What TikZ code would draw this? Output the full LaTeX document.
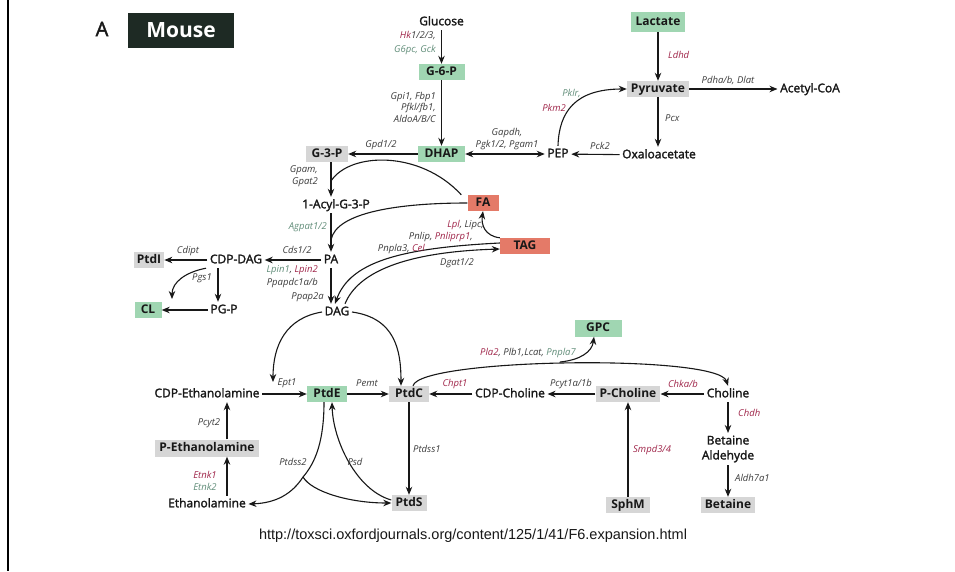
\documentclass[tikz,border=0pt]{standalone}
\usepackage{fontspec}
\setmainfont{Open Sans}
\newfontfamily\medfont[FakeBold=2]{Open Sans}
\newfontfamily\urlfont{Liberation Sans}
\usetikzlibrary{arrows.meta}
\definecolor{boxgreen}{RGB}{160,214,178}
\definecolor{boxgrey}{RGB}{214,214,214}
\definecolor{boxred}{RGB}{228,122,104}
\definecolor{enzred}{RGB}{160,38,74}
\definecolor{enzgreen}{RGB}{98,142,122}
\definecolor{inkc}{RGB}{24,24,24}
\definecolor{enzgrey}{RGB}{60,60,60}
\definecolor{mousebg}{RGB}{30,42,36}
\begin{document}
\begin{tikzpicture}[x=1pt,y=-1pt,
  met/.style={font=\fontsize{12}{12}\selectfont\medfont, text=inkc, inner sep=2.5pt, text height=8.8pt, text depth=2.2pt},
  metml/.style={font=\fontsize{12}{15}\selectfont\medfont, text=inkc, inner sep=2.5pt, align=center},
  boxed/.style={met, font=\fontsize{12}{12}\selectfont\bfseries, inner xsep=4pt, minimum height=15pt},
  gbox/.style={boxed, fill=boxgreen},
  grbox/.style={boxed, fill=boxgrey},
  rbox/.style={boxed, fill=boxred},
  enz/.style={font=\fontsize{9.5}{10}\selectfont\itshape, text=enzgrey, inner sep=0pt},
  arr/.style={draw=inkc, line width=1.1pt, -{Stealth[length=8pt,width=6.5pt]}},
  darr/.style={draw=inkc, line width=1.1pt, {Stealth[length=8pt,width=6.5pt]}-{Stealth[length=8pt,width=6.5pt]}},
  ln/.style={draw=inkc, line width=1.1pt}]
\useasboundingbox (0,0) rectangle (955,571);
\fill[white] (0,0) rectangle (955,571);
\draw[line width=2pt, black] (8,0) -- (8,571);

% header
\node[font=\fontsize{20}{20}\selectfont\medfont, text=inkc] (A) at (102,29) {A};
\node[fill=mousebg, minimum width=106pt, minimum height=35pt, text=white, font=\fontsize{21}{21}\selectfont\bfseries] (mouse) at (181,30) {Mouse};

% metabolites
\node[met] (glucose) at (441.5,22) {Glucose};
\node[gbox, minimum width=46pt] (g6p) at (441.5,72) {G-6-P};
\node[gbox, minimum width=47pt] (dhap) at (441.5,154) {DHAP};
\node[grbox, minimum width=42pt] (g3p) at (327,154) {G-3-P};
\node[met] (pep) at (558,154) {PEP};
\node[met] (oxa) at (659,155) {Oxaloacetate};
\node[gbox, minimum width=54pt, minimum height=20pt] (lactate) at (658,22) {Lactate};
\node[grbox, minimum width=53pt, minimum height=14pt] (pyr) at (658,89) {Pyruvate};
\node[met] (acoa) at (810,89) {Acetyl-CoA};
\node[met] (acyl) at (336,205) {1-Acyl-G-3-P};
\node[rbox, minimum width=31pt] (fa) at (483,203) {FA};
\node[rbox, minimum width=50pt] (tag) at (525,246) {TAG};
\node[met] (pa) at (331,260) {PA};
\node[met] (cdpdag) at (236,260) {CDP-DAG};
\node[grbox, minimum height=13pt, inner xsep=3pt] (ptdi) at (149,260) {PtdI};
\node[met] (pgp) at (224,310) {PG-P};
\node[gbox, minimum height=13pt, minimum width=27pt] (cl) at (148,310) {CL};
\node[met] (dag) at (337,312) {DAG};
\node[met] (cdpeth) at (207,394) {CDP-Ethanolamine};
\node[gbox, minimum width=40pt] (ptde) at (327,394) {PtdE};
\node[grbox, minimum width=40pt] (ptdc) at (409,394) {PtdC};
\node[met] (cdpcho) at (510,394) {CDP-Choline};
\node[grbox, minimum width=58pt] (pcho) at (628,394) {P-Choline};
\node[met] (choline) at (728,394) {Choline};
\node[gbox, minimum width=47pt, minimum height=17pt] (gpc) at (598,328) {GPC};
\node[metml] (betald) at (728,449) {Betaine\\Aldehyde};
\node[grbox, minimum width=45pt, minimum height=14pt] (betaine) at (728,505) {Betaine};
\node[grbox, minimum width=44pt, minimum height=14pt] (sphm) at (628,505) {SphM};
\node[grbox, minimum width=99pt, minimum height=17pt] (peth) at (207,448) {P-Ethanolamine};
\node[met] (eth) at (207,504) {Ethanolamine};
\node[grbox, minimum width=35pt] (ptds) at (409,503) {PtdS};

% free-end coordinates
\coordinate (j1) at (331,181);
\coordinate (j2) at (331,240);
\coordinate (k1) at (273,382);
\coordinate (clend) at (172,299);
\coordinate (bp) at (303,477);
\coordinate (gb) at (560,362);

% upper pathway
\draw[arr] (glucose) -- (g6p);
\draw[arr] (g6p) -- (dhap);
\draw[arr] (dhap) -- (g3p);
\draw[darr] (dhap) -- (pep);
\draw[arr] (oxa) -- (pep);
\draw[arr] (lactate) -- (pyr);
\draw[arr] (pyr.south) -- (pyr.south |- oxa.north);
\draw[arr] (pyr) -- (acoa);
\draw[arr] (pep.north) .. controls (559,112) and (575,89) .. (pyr.west);

% glycerolipid
\draw[arr] (g3p.south -| pa) -- (acyl.north -| pa);
\draw[arr] (acyl.south -| pa) -- (pa);
\draw[ln] ([xshift=-6pt]fa.north west) .. controls (420,150) and (350,152) .. (j1);
\draw[ln] (fa.west) .. controls (400,203) and (336,212) .. (j2);
\draw[arr] (tag.north west) .. controls (485,236) and (481,225) .. (fa.south);
\draw[arr] ([yshift=3pt]tag.west) .. controls (400,248) and (350,262) .. ([xshift=-2pt]dag.north);
\draw[arr] ([xshift=8pt]dag.north) .. controls (358,272) and (405,252) .. ([yshift=-3pt]tag.west);
\draw[arr] (pa) -- (cdpdag);
\draw[arr] (cdpdag) -- (ptdi);
\draw[arr] ([xshift=-18pt]cdpdag.south) -- ([xshift=-18pt]cdpdag.south |- pgp.north);
\draw[arr] (pgp) -- (cl);
\draw[arr] ([xshift=-30pt]cdpdag.south) .. controls (186,272) and (172,282) .. (clend);
\draw[arr] (pa.south) -- (pa.south |- dag.north);

% phospholipids
\draw[arr] (dag.west) .. controls (286,318) and (273,345) .. (k1);
\draw[arr] (dag.east) .. controls (395,318) and (401,350) .. ([xshift=-8pt]ptdc.north);
\draw[arr] (cdpeth) -- (ptde);
\draw[arr] (ptde) -- (ptdc);
\draw[arr] (cdpcho) -- (ptdc);
\draw[arr] (pcho) -- (cdpcho);
\draw[arr] (choline) -- (pcho);
\draw[arr] (ptdc) -- (ptds);
\draw[arr] (choline) -- (betald);
\draw[arr] (betald) -- (betaine);
\draw[arr] (sphm) -- (pcho);
\draw[arr] ([xshift=20pt]peth.north) -- ([xshift=20pt]peth.north |- cdpeth.south);
\draw[arr] ([xshift=20pt]eth.north) -- ([xshift=20pt]eth.north |- peth.south);
\draw[arr] ([xshift=4pt]ptdc.north) .. controls (420,358) and (718,354) .. (choline.north);
\draw[arr] (gb) .. controls (580,360) and (592,352) .. ([xshift=-4pt]gpc.south);
\draw[ln] ([xshift=-3pt]ptde.south) .. controls (324,440) and (316,462) .. (bp);
\draw[arr] (bp) .. controls (292,494) and (276,503) .. (eth.east);
\draw[arr] (bp) .. controls (312,492) and (350,503) .. (ptds.west);
\draw[arr] ([yshift=3pt]ptds.west) .. controls (356,490) and (333,440) .. ([xshift=5pt]ptde.south);

% enzyme labels
\node[enz, anchor=east] (e1) at (436,36) {{\color{enzred}Hk}1/2/3,};
\node[enz, anchor=east, text=enzgreen] (e2) at (436,50) {G6pc, Gck};
\node[enz, anchor=east] (e3) at (436,97) {Gpi1, Fbp1};
\node[enz, anchor=east] (e4) at (436,108) {Pfkl/fb1,};
\node[enz, anchor=east] (e5) at (436,119) {AldoA/B/C};
\node[enz] (e6) at (381,145) {Gpd1/2};
\node[enz] (e7) at (507,133) {Gapdh,};
\node[enz] (e8) at (507,145) {Pgk1/2, Pgam1};
\node[enz] (e9) at (600,146) {Pck2};
\node[enz, anchor=west, text=enzred] (e10) at (668,55) {Ldhd};
\node[enz, anchor=west] (e11) at (665,118) {Pcx};
\node[enz] (e12) at (728,80) {Pdha/b, Dlat};
\node[enz, anchor=east, text=enzgreen] (e13) at (581,93) {Pklr,};
\node[enz, anchor=east, text=enzred] (e14) at (566,108) {Pkm2};
\node[enz, anchor=east] (e15) at (318,170) {Gpam,};
\node[enz, anchor=east] (e16) at (318,182) {Gpat2};
\node[enz, anchor=east, text=enzgreen] (e17) at (327,227) {Agpat1/2};
\node[enz] (e18) at (297,250) {Cds1/2};
\node[enz] (e19) at (188,251) {Cdipt};
\node[enz, anchor=east] (e20) at (212,278) {Pgs1};
\node[enz, anchor=east] (e21) at (318,270) {{\color{enzgreen}Lpin1}, {\color{enzred}Lpin2}};
\node[enz, anchor=east] (e22) at (318,283) {Ppapdc1a/b};
\node[enz, anchor=east] (e23) at (324,297) {Ppap2a};
\node[enz, anchor=east] (e24) at (484,225) {{\color{enzred}Lpl}, Lipc,};
\node[enz, anchor=east] (e25) at (473,237) {Pnlip, {\color{enzred}Pnliprp1},};
\node[enz, anchor=east] (e26) at (425,249) {Pnpla3, {\color{enzred}Cel}};
\node[enz] (e27) at (457,263) {Dgat1/2};
\node[enz] (e28) at (287,383) {Ept1};
\node[enz] (e29) at (367,383) {Pemt};
\node[enz, text=enzred] (e30) at (455,384) {Chpt1};
\node[enz] (e31) at (571,384) {Pcyt1a/1b};
\node[enz, text=enzred] (e32) at (683,384) {Chka/b};
\node[enz] (e33) at (528,353) {{\color{enzred}Pla2}, Plb1,Lcat, {\color{enzgreen}Pnpla7}};
\node[enz, anchor=west] (e34) at (413,449) {Ptdss1};
\node[enz] (e35) at (209,423) {Pcyt2};
\node[enz, text=enzred] (e36) at (205,475) {Etnk1};
\node[enz, text=enzgreen] (e37) at (205,487) {Etnk2};
\node[enz] (e38) at (293,462) {Ptdss2};
\node[enz] (e39) at (355,462) {Psd};
\node[enz, anchor=west, text=enzred] (e40) at (633,450) {Smpd3/4};
\node[enz, anchor=west, text=enzred] (e41) at (738,413) {Chdh};
\node[enz, anchor=west] (e42) at (735,478) {Aldh7a1};

% source
\node[font=\fontsize{14.5}{15}\selectfont\urlfont, text=inkc] (url) at (473,536) {http://toxsci.oxfordjournals.org/content/125/1/41/F6.expansion.html};
\end{tikzpicture}
\end{document}
